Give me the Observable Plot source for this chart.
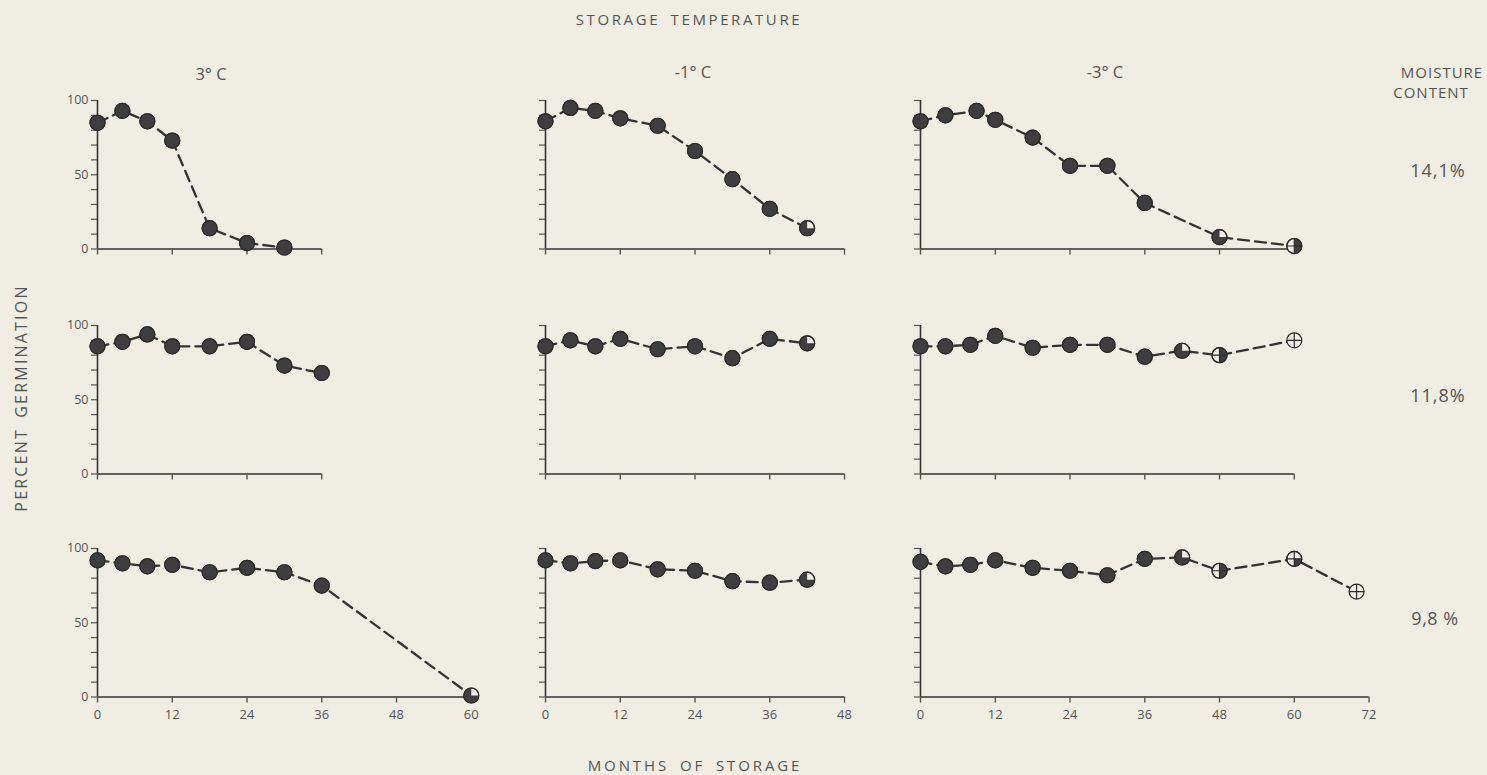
<!DOCTYPE html>
<html>
<head>
<meta charset="utf-8">
<script src="https://cdn.jsdelivr.net/npm/d3@7"></script>
<script src="https://cdn.jsdelivr.net/npm/@observablehq/plot@0.6"></script>
<style>
  html, body { margin: 0; padding: 0; background: #f0eee3; }
  #chart { position: relative; width: 1487px; height: 775px; background: #f0eee3; overflow: hidden;
           font-family: "Open Sans", "DejaVu Sans", sans-serif; color: #555; }
  .lbl { position: absolute; white-space: nowrap; color: #555; line-height: 1; }
  .panel { position: absolute; }
</style>
</head>
<body>
<div id="chart"></div>
<script>
// ---------------- DATA ----------------
const temperatures = ["3° C", "-1° C", "-3° C"];
const moistures = ["14,1%", "11,8%", "9,8 %"];
const xTicks = [0, 12, 24, 36, 48, 60, 72];
const yTicks = [0, 10, 20, 30, 40, 50, 60, 70, 80, 90, 100];
const yLabels = [0, 50, 100];

// marker codes: F = filled, Q3 = three-quarter filled, H = half filled, Q1 = quarter filled, O = open
// 14,1 % moisture
const months_3C_141 = [0, 4, 8, 12, 18, 24, 30];
const germ_3C_141   = [85, 93, 86, 73, 14, 4, 1];
const marks_3C_141  = ["F", "F", "F", "F", "F", "F", "F"];

const months_m1C_141 = [0, 4, 8, 12, 18, 24, 30, 36, 42];
const germ_m1C_141   = [86, 95, 93, 88, 83, 66, 47, 27, 14];
const marks_m1C_141  = ["F", "F", "F", "F", "F", "F", "F", "F", "Q3"];

const months_m3C_141 = [0, 4, 9, 12, 18, 24, 30, 36, 48, 60];
const germ_m3C_141   = [86, 90, 93, 87, 75, 56, 56, 31, 8, 2];
const marks_m3C_141  = ["F", "F", "F", "F", "F", "F", "F", "F", "Q3", "H"];

// 11,8 % moisture
const months_3C_118 = [0, 4, 8, 12, 18, 24, 30, 36];
const germ_3C_118   = [86, 89, 94, 86, 86, 89, 73, 68];
const marks_3C_118  = ["F", "F", "F", "F", "F", "F", "F", "F"];

const months_m1C_118 = [0, 4, 8, 12, 18, 24, 30, 36, 42];
const germ_m1C_118   = [86, 90, 86, 91, 84, 86, 78, 91, 88];
const marks_m1C_118  = ["F", "F", "F", "F", "F", "F", "F", "F", "Q3"];

const months_m3C_118 = [0, 4, 8, 12, 18, 24, 30, 36, 42, 48, 60];
const germ_m3C_118   = [86, 86, 87, 93, 85, 87, 87, 79, 83, 80, 90];
const marks_m3C_118  = ["F", "F", "F", "F", "F", "F", "F", "F", "Q3", "H", "O"];

// 9,8 % moisture
const months_3C_98 = [0, 4, 8, 12, 18, 24, 30, 36, 60];
const germ_3C_98   = [92, 90, 88, 89, 84, 87, 84, 75, 1];
const marks_3C_98  = ["F", "F", "F", "F", "F", "F", "F", "F", "Q3"];

const months_m1C_98 = [0, 4, 8, 12, 18, 24, 30, 36, 42];
const germ_m1C_98   = [92, 90, 91.5, 92, 86, 85, 78, 77, 79];
const marks_m1C_98  = ["F", "F", "F", "F", "F", "F", "F", "F", "Q3"];

const months_m3C_98 = [0, 4, 8, 12, 18, 24, 30, 36, 42, 48, 60, 70];
const germ_m3C_98   = [91, 88, 89, 92, 87, 85, 82, 93, 94, 85, 93, 71];
const marks_m3C_98  = ["F", "F", "F", "F", "F", "F", "F", "F", "Q3", "H", "Q1", "O"];

// axis extent (months) per row (moisture) and column (temperature)
const axisEnd = [
  [36, 48, 60],
  [36, 48, 60],
  [60, 48, 72]
];

const series = [
  [[months_3C_141, germ_3C_141, marks_3C_141], [months_m1C_141, germ_m1C_141, marks_m1C_141], [months_m3C_141, germ_m3C_141, marks_m3C_141]],
  [[months_3C_118, germ_3C_118, marks_3C_118], [months_m1C_118, germ_m1C_118, marks_m1C_118], [months_m3C_118, germ_m3C_118, marks_m3C_118]],
  [[months_3C_98, germ_3C_98, marks_3C_98], [months_m1C_98, germ_m1C_98, marks_m1C_98], [months_m3C_98, germ_m3C_98, marks_m3C_98]]
];

// ---------------- LAYOUT ----------------
const PAPER = "#f0eee3";
const INK = "#333";
const DOT = "#3e3e3e";
const PX_PER_MONTH = 6.23;
const PLOT_H = 148.5;
const colX0 = [97, 545, 920];
const rowY100 = [100, 324.5, 548];
const mL = 45, mR = 15, mT = 12, mB = 34;

// custom symbols
function wedge(a0, a1) {
  return {
    draw(context, size) {
      const r = Math.sqrt(size / Math.PI);
      context.moveTo(0, 0);
      context.arc(0, 0, r, a0, a1);
      context.closePath();
    }
  };
}
const fullDisc = {
  draw(context, size) {
    const r = Math.sqrt(size / Math.PI);
    context.moveTo(r, 0);
    context.arc(0, 0, r, 0, 2 * Math.PI);
    context.closePath();
  }
};
const crossSym = {
  draw(context, size) {
    const r = Math.sqrt(size / Math.PI);
    context.moveTo(-r, 0); context.lineTo(r, 0);
    context.moveTo(0, -r); context.lineTo(0, r);
  }
};
const fillSymbols = {
  F: fullDisc,
  Q3: wedge(0, 1.5 * Math.PI),
  H: wedge(-0.5 * Math.PI, 0.5 * Math.PI),
  Q1: wedge(0, 0.5 * Math.PI)
};

const chart = document.getElementById("chart");

function addLabel(text, x, y, opts = {}) {
  const d = document.createElement("div");
  d.className = "lbl";
  d.textContent = text;
  d.style.fontSize = (opts.size || 14) + "px";
  if (opts.spacing) d.style.letterSpacing = opts.spacing + "px";
  if (opts.word) d.style.wordSpacing = opts.word + "px";
  d.style.left = x + "px";
  d.style.top = y + "px";
  let tr = "translate(-50%, -50%)";
  if (opts.rotate) tr += " rotate(" + opts.rotate + "deg)";
  d.style.transform = tr;
  chart.appendChild(d);
}

for (let row = 0; row < 3; row++) {
  for (let col = 0; col < 3; col++) {
    const [months, germ, marks] = series[row][col];
    const data = months.map((m, i) => ({month: m, pct: germ[i], mark: marks[i]}));
    const xEnd = axisEnd[row][col];
    const plotW = xEnd * PX_PER_MONTH;
    const showX = row === 2;
    const showY = col === 0;
    const marks_ = [
      Plot.ruleY([0], {x1: 0, x2: xEnd, stroke: INK, strokeWidth: 1.6}),
      Plot.ruleX([0], {y1: 0, y2: 100, stroke: INK, strokeWidth: 1.6}),
      Plot.axisX({
        ticks: xTicks.filter(t => t <= xEnd),
        tickSize: 6, tickPadding: 7, strokeWidth: 1.4,
        tickFormat: d => showX ? String(d) : "",
        label: null, fontSize: 13, color: "#555"
      }),
      Plot.axisY({
        ticks: yTicks, tickSize: 6, tickPadding: 3, strokeWidth: 1.2,
        tickFormat: d => (showY && yLabels.includes(d)) ? String(d) : "",
        label: null, fontSize: 12.5, color: "#555"
      }),
      Plot.line(data, {x: "month", y: "pct", stroke: INK, strokeWidth: 2.3, strokeDasharray: "11,6"}),
      Plot.dot(data, {x: "month", y: "pct", r: 7.5, fill: PAPER, stroke: "#2a2a2a", strokeWidth: 1.2})
    ];
    for (const code of Object.keys(fillSymbols)) {
      const sub = data.filter(d => d.mark === code);
      if (sub.length) marks_.push(Plot.dot(sub, {x: "month", y: "pct", r: 7.5, symbol: fillSymbols[code], fill: DOT, stroke: "none"}));
    }
    const crossed = data.filter(d => d.mark === "H" || d.mark === "Q1" || d.mark === "O");
    if (crossed.length) marks_.push(Plot.dot(crossed, {x: "month", y: "pct", r: 7.5, symbol: crossSym, fill: "none", stroke: "#2a2a2a", strokeWidth: 1.2}));
    const filled = data.filter(d => d.mark !== "O");
    marks_.push(Plot.dot(filled, {x: "month", y: "pct", r: 7.5, fill: "none", stroke: "#2a2a2a", strokeWidth: 1.2}));

    const svg = Plot.plot({
      width: mL + plotW + mR,
      height: mT + PLOT_H + mB,
      marginLeft: mL, marginRight: mR, marginTop: mT, marginBottom: mB,
      x: {domain: [0, xEnd], range: [mL, mL + plotW]},
      y: {domain: [0, 100], range: [mT + PLOT_H, mT]},
      style: {background: "transparent", color: "#444", fontFamily: "'Open Sans', 'DejaVu Sans', sans-serif", fontSize: "12.5px", overflow: "visible"},
      marks: marks_
    });
    svg.classList.add("panel");
    svg.style.left = (colX0[col] - mL) + "px";
    svg.style.top = (rowY100[row] - mT) + "px";
    chart.appendChild(svg);
  }
}

// ---------------- TEXT ----------------
addLabel("STORAGE  TEMPERATURE", 689, 19, {size: 15, spacing: 2.6, word: 4});
addLabel(temperatures[0], 211, 74, {size: 16.5});
addLabel(temperatures[1], 693, 72, {size: 16.5});
addLabel(temperatures[2], 1105, 72, {size: 16.5});
addLabel("MOISTURE", 1442, 72, {size: 15, spacing: 1});
addLabel("CONTENT", 1431, 92, {size: 15, spacing: 1});
addLabel(moistures[0], 1438, 170, {size: 18, spacing: 1});
addLabel(moistures[1], 1438, 395, {size: 18, spacing: 1});
addLabel(moistures[2], 1435, 618, {size: 18, spacing: 0.5});
addLabel("PERCENT  GERMINATION", 21, 398, {size: 16, spacing: 2.2, word: 4, rotate: -90});
addLabel("MONTHS  OF  STORAGE", 695, 765, {size: 15, spacing: 2.9, word: 4});
</script>
</body>
</html>
